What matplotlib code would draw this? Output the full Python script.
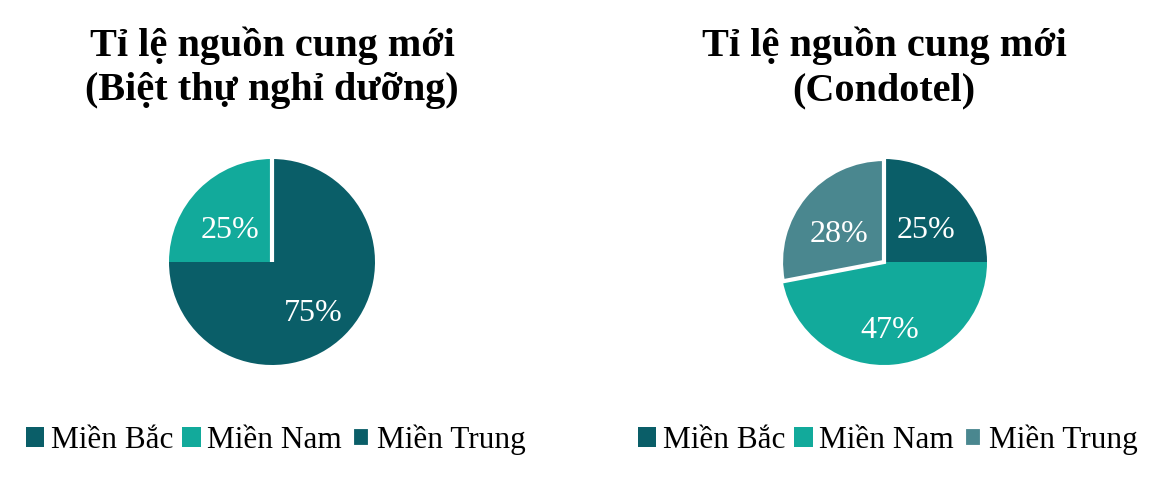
import matplotlib
matplotlib.use("Agg")
import matplotlib.pyplot as plt

# data
regions = ["Miền Bắc", "Miền Nam", "Miền Trung"]
villa_share = [75, 25, 0]
condotel_share = [25, 47, 28]
titles = ["Tỉ lệ nguồn cung mới\n(Biệt thự nghỉ dưỡng)",
          "Tỉ lệ nguồn cung mới\n(Condotel)"]

DARK, LIGHT, GREY = "#0a5e68", "#12aa9b", "#4a878f"
colors_left = [DARK, LIGHT, DARK]
colors_right = [DARK, LIGHT, GREY]

plt.rcParams["font.family"] = ["Liberation Serif", "DejaVu Serif"]

W, H = 1165, 479
fig = plt.figure(figsize=(W / 100, H / 100), dpi=100, facecolor="white")


def pct_label(p):
    return f"{p:.0f}%" if p > 0.5 else ""


def draw_pie(cx, values, colors, title):
    r = 103
    cy = 262
    ax = fig.add_axes([(cx - r) / W, 1 - (cy + r) / H, 2 * r / W, 2 * r / H])
    wedges, _, autotexts = ax.pie(values, colors=colors, startangle=90, counterclock=False,
                                  autopct=pct_label, pctdistance=0.57,
                                  wedgeprops=dict(linewidth=0), radius=1,
                                  textprops=dict(color="white", fontsize=23))
    # Miền Trung slice gets a white border (as in the source chart)
    wedges[2].set_edgecolor("white")
    wedges[2].set_linewidth(3)
    wedges[2].set_clip_on(False)
    for t in autotexts:
        x, y = t.get_position()
        t.set_position((x, y - 0.1))
    ax.set_xlim(-1, 1)
    ax.set_ylim(-1, 1)
    ax.set_aspect("equal")
    fig.text(cx / W, 1 - 68 / H, title, ha="center", va="center",
             fontsize=29, fontweight="bold", linespacing=1.25)
    fig.legend(wedges, regions, loc="center", bbox_to_anchor=(cx / W + 0.003, 1 - 440 / H),
               ncol=3, frameon=False, fontsize=22.5, handlelength=0.6, handleheight=0.6,
               handletextpad=0.2, columnspacing=0.3)
    return autotexts


draw_pie(272, villa_share, colors_left, titles[0])
draw_pie(884, condotel_share, colors_right, titles[1])

fig.savefig("out.png", dpi=100, facecolor="white")
